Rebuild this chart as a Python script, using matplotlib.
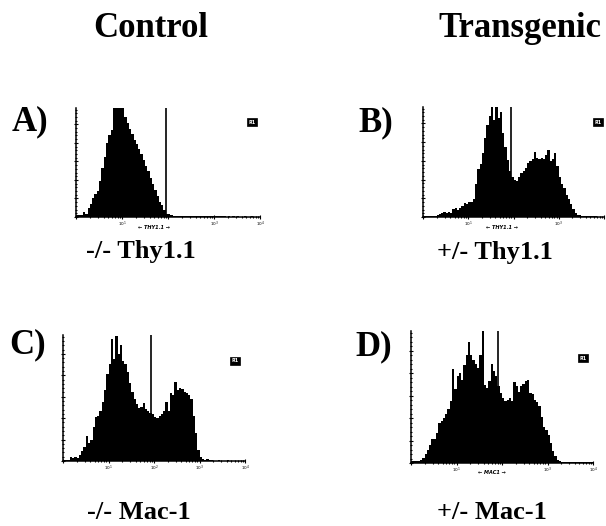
import numpy as np
import matplotlib
matplotlib.use("Agg")
import matplotlib.pyplot as plt
from matplotlib.ticker import FixedLocator, MultipleLocator

# histogram heights (% of panel height), 80 bins of 0.05 decade from 10^0 to 10^4
edges = np.linspace(0, 4, 81)

thy_control = [1.5, 1.5, 2, 5, 3, 8, 12, 17, 21, 24,
               33, 45, 55, 68, 75, 80, 100, 105, 100, 105,
               100, 92, 86, 81, 76, 71, 67, 62, 58, 52,
               47, 42, 36, 30, 25, 19, 14, 11, 6, 3,
               2.5, 1.5, 1, 0.8, 0.6, 0.8, 0.5, 0.6, 0.5, 0.8,
               1.2, 0.8, 1.0, 0.6, 0.8, 1.2, 0.6, 0.5, 0.8, 0.5,
               0.6, 0.5, 0.6, 0.5, 0.6, 0.4, 0.5, 0.4, 0.5, 0.4,
               0.5, 0.4, 0.4, 0.5, 0.4, 0.4, 0.5, 0.4, 0.4, 0.4]

thy_tg = [0.5, 0.5, 0.5, 0.8, 1, 1, 1.5, 3, 4, 5,
          3.5, 5, 4, 7, 8, 6, 8, 10, 13, 12,
          14, 14, 16, 30, 44, 48, 58, 72, 84, 92,
          100, 88, 102, 90, 95, 76, 64, 52, 42, 36,
          34, 33, 36, 40, 42, 45, 49, 51, 53, 59,
          54, 53, 54, 53, 56, 61, 51, 53, 58, 46,
          36, 30, 26, 20, 16, 12, 7, 4, 2, 1.5,
          1, 0.8, 0.6, 0.6, 0.5, 0.5, 0.5, 0.4, 0.4, 0.4]

mac_control = [0.5, 0.5, 1, 3.5, 2, 3, 2.5, 5, 8, 11,
               20, 14, 17, 27, 35, 36, 40, 47, 56, 69,
               77, 97, 81, 99, 85, 92, 79, 77, 71, 62,
               55, 49, 45, 42, 43, 46, 41, 40, 38, 37,
               35, 34, 36, 37, 40, 47, 40, 54, 52, 63,
               56, 58, 57, 55, 54, 52, 49, 36, 22, 9,
               3, 1.5, 0.8, 1.5, 0.5, 0.4, 0.3, 0.3, 0.4, 0.3,
               0.3, 0.3, 0.4, 0.3, 0.3, 0.3, 0.3, 0.3, 0.3, 0.3]

mac_tg = [1.5, 1.5, 1.5, 1.5, 2, 4, 7, 10, 14, 18,
          18, 23, 30, 32, 34, 37, 41, 47, 71, 56,
          66, 68, 63, 74, 82, 92, 82, 78, 75, 72,
          82, 100, 59, 57, 62, 75, 70, 66, 58, 53,
          49, 47, 48, 49, 47, 61, 58, 54, 58, 60,
          62, 63, 53, 52, 48, 46, 43, 35, 27, 25,
          21, 15, 9, 5, 2.5, 1.5, 1, 1, 1, 0.8,
          1, 0.8, 1, 0.8, 0.8, 1, 0.8, 0.8, 0.8, 0.8]

gates = [1.96, 1.95, 1.93, 1.91]
panel_letters = ["A)", "B)", "C)", "D)"]
bottom_labels = ["-/- Thy1.1", "+/- Thy1.1", "-/- Mac-1", "+/- Mac-1"]
axis_labels = ["\u2190 THY1.1 \u2192", "\u2190 THY1.1 \u2192", "", "\u2190 MAC1 \u2192"]
decade_labels = ["", r"$10^1$", r"$10^2$", r"$10^3$", r"$10^4$"]

W, H = 606, 526
fig = plt.figure(figsize=(W / 100, H / 100), dpi=100)
serif = "Liberation Serif"

def px_ax(l, r, t, b):
    return fig.add_axes([l / W, 1 - b / H, (r - l) / W, (b - t) / H])

def ftxt(x, y, s, **kw):
    fig.text(x / W, 1 - y / H, s, **kw)

# pixel boxes of the four histogram panels
boxes = [(76, 260, 108, 217), (423, 604, 107, 217), (63, 245, 335, 461), (411, 593, 331, 463)]
data = [thy_control, thy_tg, mac_control, mac_tg]
minor = [d + np.log10(k) for d in range(4) for k in range(2, 10)]

for i in range(4):
    ax = px_ax(*boxes[i])
    ax.stairs(data[i], edges, fill=True, color="black", lw=0)
    ax.axvline(gates[i], color="black", lw=1.2)
    ax.set_xlim(0, 4)
    ax.set_ylim(0, 100)
    for s in ["top", "right"]:
        ax.spines[s].set_visible(False)
    ax.spines["left"].set_linewidth(1.1)
    ax.spines["bottom"].set_linewidth(1.1)
    ax.xaxis.set_major_locator(FixedLocator([0, 1, 2, 3, 4]))
    ax.xaxis.set_minor_locator(FixedLocator(minor))
    labs = list(decade_labels)
    if axis_labels[i]:
        labs[2] = ""          # hidden under the axis name
    if i == 1:
        labs[4] = ""          # runs off the page edge
    ax.set_xticklabels(labs)
    ax.yaxis.set_major_locator(MultipleLocator(17))
    ax.yaxis.set_minor_locator(MultipleLocator(3.4))
    ax.set_yticklabels([])
    ax.tick_params(which="both", direction="inout", width=0.8, labelsize=3, pad=0.5)
    ax.tick_params(which="major", length=3)
    ax.tick_params(which="minor", length=1.6)
    ax.patch.set_alpha(0)

# column titles
ftxt(151, 37, "Control", family=serif, weight="bold", fontsize=25, ha="center", va="baseline")
ftxt(520, 37, "Transgenic", family=serif, weight="bold", fontsize=25, ha="center", va="baseline")

letter_pos = [(12, 130), (358, 131), (9, 353), (355, 355)]
for (x, y), s in zip(letter_pos, panel_letters):
    ftxt(x, y, s, family=serif, weight="bold", fontsize=25, ha="left", va="baseline")

label_pos = [(141, 258), (495, 259), (139, 519), (492, 519)]
for (x, y), s in zip(label_pos, bottom_labels):
    ftxt(x, y, s, family=serif, weight="bold", fontsize=19, ha="center", va="baseline")

axlab_pos = [(154, 228), (502, 228), (0, 0), (492, 473)]
for (x, y), s in zip(axlab_pos, axis_labels):
    if s:
        ftxt(x, y, s, family="DejaVu Sans", weight="bold", style="italic",
             fontsize=3.6, ha="center", va="center")

# small region markers
marker_pos = [(252, 122), (598, 122), (235, 361), (583, 358)]
for x, y in marker_pos:
    ftxt(x, y, "R1", family="DejaVu Sans", weight="bold", fontsize=3.5, color="white",
         ha="center", va="center",
         bbox=dict(boxstyle="square,pad=0.35", fc="black", ec="black", lw=0.5))

fig.savefig("out.png", dpi=100)
